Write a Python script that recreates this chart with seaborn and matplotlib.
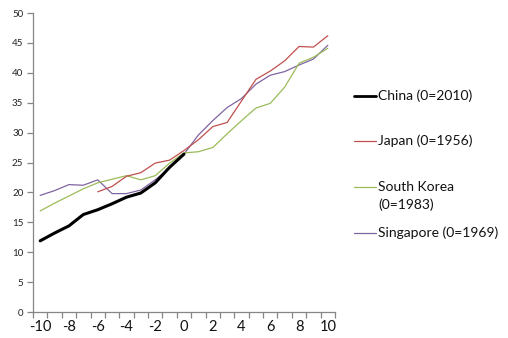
import numpy as np
import pandas as pd
import matplotlib
matplotlib.use("Agg")
import matplotlib.pyplot as plt
from matplotlib.lines import Line2D
import seaborn as sns

# Years relative to each country's reference year
years = list(range(-10, 11))

china_years = list(range(-10, 1))
china = [11.9, 13.2, 14.4, 16.3, 17.1, 18.1, 19.2, 19.9, 21.6, 24.2, 26.4]
japan_years = list(range(-6, 11))
japan = [20.1, 21.0, 22.7, 23.3, 24.9, 25.4, 27.0, 28.8, 31.0, 31.7, 35.3,
         38.9, 40.3, 42.0, 44.4, 44.3, 46.2]
south_korea = [16.9, 18.2, 19.4, 20.6, 21.6, 22.2, 22.8, 22.1, 22.8, 24.9, 26.6,
               26.8, 27.5, 29.8, 32.0, 34.1, 34.9, 37.6, 41.6, 42.6, 44.1]
singapore = [19.5, 20.3, 21.3, 21.2, 22.1, 19.8, 19.8, 20.4, 22.1, 24.1, 26.4,
             29.6, 32.0, 34.2, 35.7, 38.1, 39.6, 40.2, 41.3, 42.3, 44.6]

labels = ["China (0=2010)", "Japan (0=1956)", "South Korea\n(0=1983)", "Singapore (0=1969)"]
colors = ["#000000", "#C0504D", "#9BBB59", "#8064A2"]
widths = [2.2, 0.9, 0.9, 0.9]

series = [
    (china_years, china),
    (japan_years, japan),
    (years, south_korea),
    (years, singapore),
]

sns.set_theme(style="white")
plt.rcParams["font.family"] = ["Lato", "DejaVu Sans"]
plt.rcParams["axes.unicode_minus"] = False

fig = plt.figure(figsize=(5.08, 3.38), dpi=100)
ax = fig.add_axes([33 / 508, 26 / 338, 302 / 508, 299 / 338])

# Draw in reverse so the China line sits on top
for (xs, ys), col, lw in reversed(list(zip(series, colors, widths))):
    df = pd.DataFrame({"year": xs, "value": ys})
    sns.lineplot(data=df, x="year", y="value", ax=ax, color=col, linewidth=lw,
                 legend=False, zorder=3 if col == "#000000" else 2)

ax.set_xlim(-10.5, 10.5)
ax.set_ylim(0, 50)
ax.set_xlabel("")
ax.set_ylabel("")

ax.set_yticks(range(0, 51, 5))
ax.set_xticks(range(-10, 11, 2))
ax.set_xticks(np.arange(-10.5, 10.6, 1), minor=True)

axis_col = "#868686"
for side in ["top", "right"]:
    ax.spines[side].set_visible(False)
for side in ["left", "bottom"]:
    ax.spines[side].set_color(axis_col)
    ax.spines[side].set_linewidth(0.9)

ax.tick_params(axis="y", which="major", direction="out", length=4, width=0.9,
               color=axis_col, labelsize=7, labelcolor="#222222", pad=3, left=True)
ax.tick_params(axis="x", which="major", length=0, labelsize=10.5,
               labelcolor="#111111", pad=6, bottom=True)
ax.tick_params(axis="x", which="minor", direction="out", length=4, width=0.9,
               color=axis_col, bottom=True)

# Legend to the right of the plot (pixel rows of each entry)
entry_rows = [96, 141, 187, 233]
for py, lab, col, lw in zip(entry_rows, labels, colors, widths):
    yf = 1 - py / 338
    fig.add_artist(Line2D([354 / 508, 376 / 508], [yf, yf], color=col,
                          linewidth=min(lw, 2.0), transform=fig.transFigure))
    lines = lab.split("\n")
    for i, line in enumerate(lines):
        fig.text(378 / 508, yf - i * 18 / 338, line, fontsize=10, color="#111111",
                 va="center", ha="left")

fig.savefig("out.png", dpi=100)
